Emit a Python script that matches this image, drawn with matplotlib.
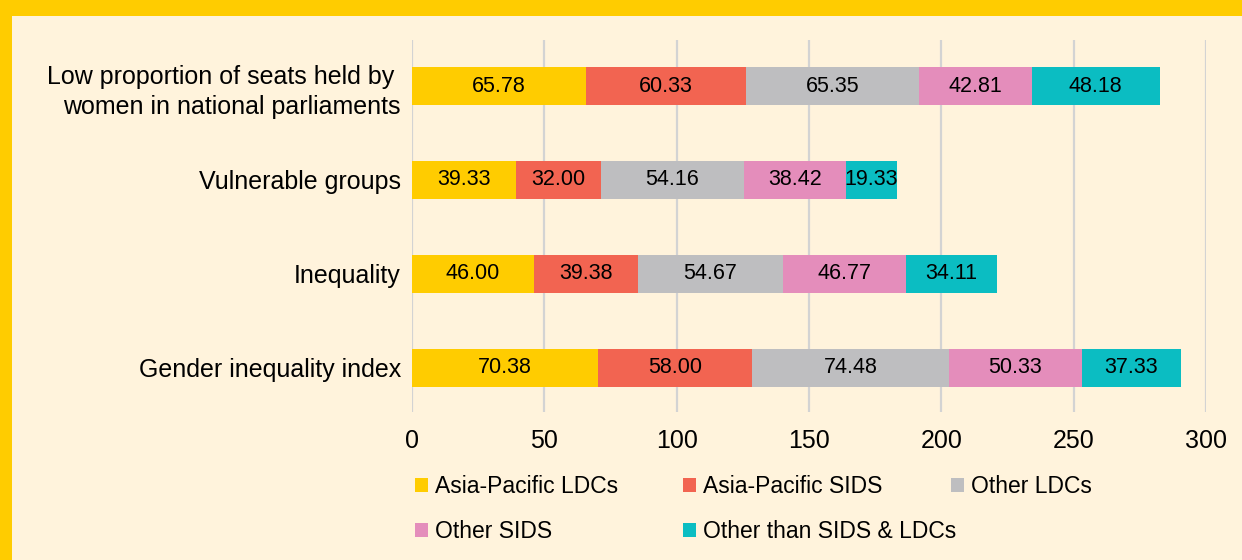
import numpy as np
import matplotlib.pyplot as plt
from matplotlib.patches import Rectangle, Patch

plt.rcParams['font.family'] = ['Liberation Sans', 'DejaVu Sans']

# bottom to top
categories = ["Gender inequality index", "Inequality", "Vulnerable groups",
              "Low proportion of seats held by \nwomen in national parliaments"]
series = ["Asia-Pacific LDCs", "Asia-Pacific SIDS", "Other LDCs", "Other SIDS",
          "Other than SIDS & LDCs"]
ap_ldcs = [70.38, 46.00, 39.33, 65.78]
ap_sids = [58.00, 39.38, 32.00, 60.33]
other_ldcs = [74.48, 54.67, 54.16, 65.35]
other_sids = [50.33, 46.77, 38.42, 42.81]
other_than = [37.33, 34.11, 19.33, 48.18]
xticks = [0, 50, 100, 150, 200, 250, 300]

colors = ["#FFCC00", "#F26451", "#BEBEC0", "#E48DBB", "#0BBDC2"]
cream = "#FFF3DC"

fig = plt.figure(figsize=(12.42, 5.6), dpi=100, facecolor="#FFCC00")
# cream panel inside the yellow frame
fig.add_artist(Rectangle((12 / 1242, 0), 1, 1 - 16 / 560, transform=fig.transFigure,
                         facecolor=cream, edgecolor="none", zorder=-10))

ax = fig.add_axes([412 / 1242, 1 - 412 / 560, 794 / 1242, 372 / 560])
ax.set_facecolor(cream)

y = np.arange(len(categories))
left = np.zeros(len(categories))
for vals, name, c in zip([ap_ldcs, ap_sids, other_ldcs, other_sids, other_than], series, colors):
    bars = ax.barh(y, vals, left=left, height=0.4, color=c, label=name, zorder=2)
    ax.bar_label(bars, labels=["%.2f" % v for v in vals], label_type="center",
                 fontsize=15.5, color="black", zorder=3)
    left += np.array(vals)

ax.set_xlim(0, 300)
ax.set_ylim(-0.47, 3.49)
ax.set_xticks(xticks)
ax.set_yticks(y)
ax.set_yticklabels(categories, fontsize=18, multialignment="right", linespacing=1.32)
ax.tick_params(axis="x", length=0, labelsize=18, pad=12)
ax.tick_params(axis="y", length=0, pad=8)
ax.grid(axis="x", color="#D3D3D3", linewidth=1.6, zorder=0)
ax.set_axisbelow(True)
for s in ax.spines.values():
    s.set_visible(False)

# legend laid out as a fixed 3-column grid
cols = [[0, 3], [1, 4], [2]]
for i, idx in enumerate(cols):
    handles = [Patch(facecolor=colors[k], edgecolor="none", label=series[k]) for k in idx]
    fig.legend(handles=handles, loc="upper left",
               bbox_to_anchor=((415 + 268 * i) / 1242, 1 - 475 / 560),
               frameon=False, fontsize=16.5, borderpad=0, borderaxespad=0,
               handlelength=0.57, handleheight=0.57, handletextpad=0.3,
               labelspacing=0.95)

fig.savefig("out.png", dpi=100, facecolor=fig.get_facecolor())
